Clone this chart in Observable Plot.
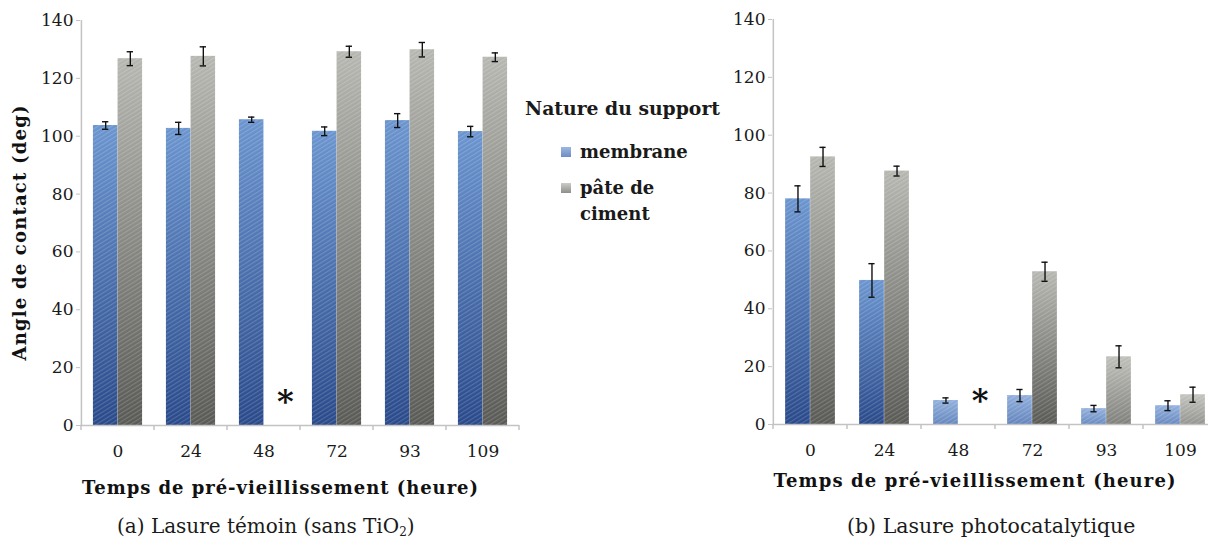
<!DOCTYPE html>
<html><head><meta charset="utf-8">
<script src="https://cdn.jsdelivr.net/npm/d3@7"></script>
<script src="https://cdn.jsdelivr.net/npm/@observablehq/plot@0.6"></script>
<style>
body{margin:0;background:#fff;width:1208px;height:548px;overflow:hidden;position:relative;font-family:"DejaVu Serif",serif;color:#1a1a1a}
#a{position:absolute;left:0;top:0;width:530px}
#b{position:absolute;left:690px;top:0;width:528px}
#a svg,#b svg{max-width:none}
.lg{position:absolute;font-weight:bold;font-size:18px;line-height:26px;white-space:nowrap}
.mk{position:absolute;width:10px;height:10px}
.cap{position:absolute;font-size:20.5px;top:514px;white-space:nowrap}
.cap sub{font-size:12px;vertical-align:-3px;line-height:0}
</style></head><body>
<div id="a"></div><div id="b"></div>
<div class="lg" style="left:525px;top:95px;font-size:18.8px">Nature du support</div>
<div class="mk" style="left:561px;top:147px;background:linear-gradient(#9db7df,#6c8ec5)"></div>
<div class="lg" style="left:580px;top:139px">membrane</div>
<div class="mk" style="left:561px;top:183px;background:linear-gradient(#cbccc7,#8e8f8a)"></div>
<div class="lg" style="left:580px;top:175px">pâte de<br>ciment</div>
<div class="cap" style="left:117px;font-size:20px">(a) Lasure témoin (sans TiO<sub>2</sub>)</div>
<div class="cap" style="left:847px">(b) Lasure photocatalytique</div>
<script>
// Categories (pre-ageing time, hours)
const times = ["0", "24", "48", "72", "93", "109"];
const seriesNames = ["membrane", "pâte de ciment"];
const yTicks = [0, 20, 40, 60, 80, 100, 120, 140];
const xLabel = "Temps de pré-vieillissement (heure)";
const yLabel = "Angle de contact (deg)";

// (a) Lasure témoin
const aMembrane    = [103.7, 102.7, 105.7, 101.7, 105.4, 101.6];
const aMembraneErr = [1.3, 2.1, 0.9, 1.5, 2.4, 1.8];
const aPate        = [126.8, 127.6, null, 129.2, 129.9, 127.3];
const aPateErr     = [2.4, 3.3, null, 1.9, 2.5, 1.5];

// (b) Lasure photocatalytique
const bMembrane    = [78.0, 49.8, 8.3, 10.0, 5.5, 6.5];
const bMembraneErr = [4.5, 5.8, 0.9, 2.1, 1.1, 1.7];
const bPate        = [92.5, 87.6, null, 52.8, 23.4, 10.3];
const bPateErr     = [3.3, 1.7, null, 3.3, 3.8, 2.6];

function rows(vals, errs) {
  return times.map((t, i) => ({time: t, v: vals[i], e: errs[i]}));
}

function panel(el, cfg) {
  const {mem, memErr, pate, pateErr, width, height, ml, mr, mt, mb, ylab, xlabDx, xlabDy, xlabLen} = cfg;
  const bw = (width - ml - mr) / times.length;
  const OUT = 0.163 * bw, BW = 0.337 * bw, CAP = (BW - 6.5) / 2;
  const m = rows(mem, memErr).filter(d => d.v != null);
  const pAll = rows(pate, pateErr);
  const p = pAll.filter(d => d.v != null);
  const missing = pAll.filter(d => d.v == null);
  const axisCol = "#c3c3c3";
  const errStyle = {stroke: "#111", strokeWidth: 1.4};
  const marks = [
    Plot.barY(m, {x: "time", y: "v", fill: "#4a72b0", insetLeft: OUT, insetRight: OUT + BW}),
    Plot.barY(p, {x: "time", y: "v", fill: "#8f908b", insetLeft: OUT + BW, insetRight: OUT}),
    Plot.ruleY([0], {stroke: axisCol, strokeWidth: 1.5}),
    Plot.ruleX([times[0]], {dx: -bw / 2, stroke: axisCol, strokeWidth: 1.5}),
    Plot.ruleX(m, {x: "time", y1: d => d.v - d.e, y2: d => d.v + d.e, dx: -BW / 2, ...errStyle}),
    Plot.tickY(m, {x: "time", y: d => d.v + d.e, insetLeft: OUT + CAP, insetRight: OUT + BW + CAP, ...errStyle}),
    Plot.tickY(m, {x: "time", y: d => d.v - d.e, insetLeft: OUT + CAP, insetRight: OUT + BW + CAP, ...errStyle}),
    Plot.ruleX(p, {x: "time", y1: d => d.v - d.e, y2: d => d.v + d.e, dx: BW / 2, ...errStyle}),
    Plot.tickY(p, {x: "time", y: d => d.v + d.e, insetLeft: OUT + BW + CAP, insetRight: OUT + CAP, ...errStyle}),
    Plot.tickY(p, {x: "time", y: d => d.v - d.e, insetLeft: OUT + BW + CAP, insetRight: OUT + CAP, ...errStyle}),
    Plot.text(missing, {x: "time", text: () => "*", frameAnchor: "bottom", dx: BW / 2 + 9, dy: -14, fontSize: 32, fontWeight: "bold", fill: "#111"}),
    Plot.axisY({ticks: yTicks, tickSize: 4, tickPadding: 3, stroke: axisCol, fill: "#1a1a1a", label: null}),
    Plot.axisX({tickSize: 0, tickPadding: 19, fill: "#1a1a1a", label: null}),
    Plot.text([xLabel], {text: d => d, frameAnchor: "bottom", dx: xlabDx, dy: xlabDy, fontWeight: "bold", fontSize: 18, fill: "#111"})
  ];
  if (ylab) marks.push(Plot.text([yLabel], {text: d => d, frameAnchor: "left", textAnchor: "middle", rotate: -90, dx: -60, dy: 10, fontWeight: "bold", fontSize: 18, fill: "#111"}));
  const svg = Plot.plot({
    width, height, marginLeft: ml, marginRight: mr, marginTop: mt, marginBottom: mb,
    style: {fontFamily: "DejaVu Serif", fontSize: "17px", background: "transparent", overflow: "visible", maxWidth: "none"},
    x: {domain: times, padding: 0},
    y: {domain: [0, 140]},
    marks
  });
  el.appendChild(svg);

  const s = d3.select(svg);
  // stretch the bold axis titles to the reference's wide lettering
  s.selectAll("text").each(function () {
    if (this.textContent === xLabel) this.setAttribute("textLength", xlabLen);
    if (this.textContent === yLabel) this.setAttribute("textLength", 255);
  });
  // Gradient + hatch styling of bars, and boundary ticks on the category axis
  const defs = s.insert("defs", ":first-child");
  const pat = defs.append("pattern").attr("id", el.id + "-hatch").attr("patternUnits", "userSpaceOnUse")
    .attr("width", 3.6).attr("height", 3.6).attr("patternTransform", "rotate(58)");
  pat.append("line").attr("x1", 0.6).attr("y1", 0).attr("x2", 0.6).attr("y2", 3.6)
    .attr("stroke", "#fff").attr("stroke-opacity", 0.2).attr("stroke-width", 1);
  const palettes = [
    {top: ["#9ab6df", "#6b95cf"], bot: ["#7193c8", "#29498a"]},
    {top: ["#c6c7c1", "#b6b7b1"], bot: ["#a3a49f", "#595a55"]}
  ];
  let gid = 0;
  s.selectAll('g[aria-label="bar"]').each(function (_, gi) {
    const pal = palettes[gi];
    d3.select(this).selectAll("rect").each(function () {
      const r = d3.select(this);
      const h = +r.attr("height");
      const t = Math.min(1, h / 145);
      const id = el.id + "-g" + (gid++);
      const lg = defs.append("linearGradient").attr("id", id).attr("x1", 0).attr("y1", 0).attr("x2", 0).attr("y2", 1);
      lg.append("stop").attr("offset", 0).attr("stop-color", d3.interpolateRgb(pal.top[0], pal.top[1])(t));
      lg.append("stop").attr("offset", 1).attr("stop-color", d3.interpolateRgb(pal.bot[0], pal.bot[1])(t));
      r.attr("fill", `url(#${id})`);
      const c = this.cloneNode();
      c.setAttribute("fill", `url(#${el.id}-hatch)`);
      this.parentNode.insertBefore(c, this.nextSibling);
    });
  });
  const xs = svg.scale("x"), ys = svg.scale("y");
  const y0 = ys.apply(0);
  const edges = times.map(t => xs.apply(t)).concat([xs.apply(times[times.length - 1]) + xs.bandwidth]);
  s.append("g").selectAll("line").data(edges).join("line")
    .attr("x1", d => d).attr("x2", d => d).attr("y1", y0).attr("y2", y0 + 5)
    .attr("stroke", axisCol).attr("stroke-width", 1.5);
}

panel(document.getElementById("a"), {mem: aMembrane, memErr: aMembraneErr, pate: aPate, pateErr: aPateErr,
  width: 530, height: 500, ml: 80, mr: 11, mt: 20, mb: 75, ylab: true, xlabDx: -20, xlabDy: 68, xlabLen: 396});
panel(document.getElementById("b"), {mem: bMembrane, memErr: bMembraneErr, pate: bPate, pateErr: bPateErr,
  width: 528, height: 500, ml: 82, mr: 0, mt: 19, mb: 76, ylab: false, xlabDx: -21, xlabDy: 62, xlabLen: 402});
</script>
</body></html>
